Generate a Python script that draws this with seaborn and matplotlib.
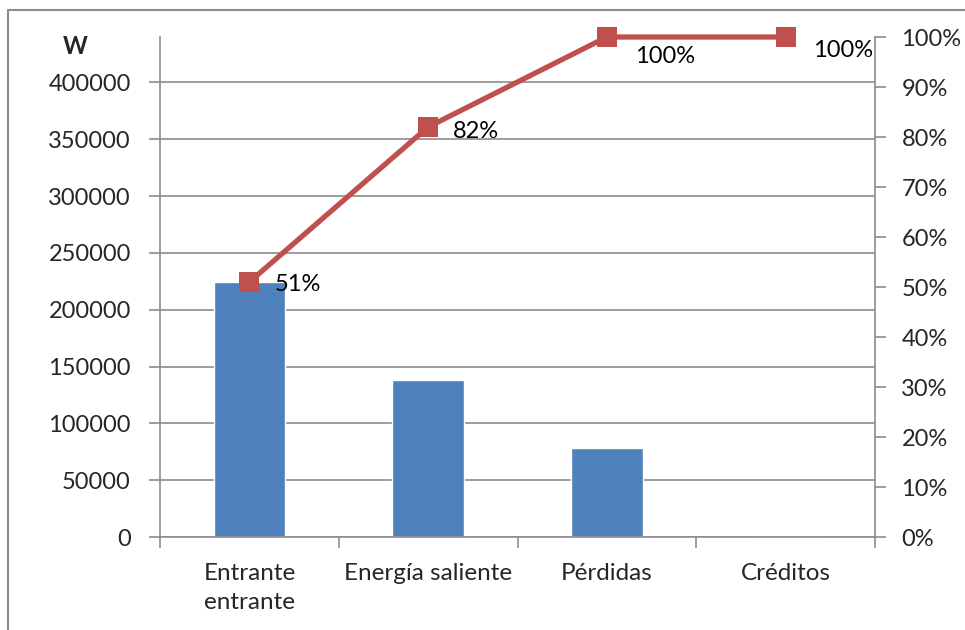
import numpy as np
import pandas as pd
import seaborn as sns
import matplotlib.pyplot as plt
from matplotlib.lines import Line2D
from matplotlib.ticker import FuncFormatter

categories = ["Entrante\nentrante", "Energía saliente", "Pérdidas", "Créditos"]
power_w = [224000, 138000, 78000, 0]
cumulative_pct = [0.51, 0.82, 1.00, 1.00]
pct_labels = ["51%", "82%", "100%", "100%"]
left_ticks = [0, 50000, 100000, 150000, 200000, 250000, 300000, 350000, 400000]
right_ticks = [0.0, 0.1, 0.2, 0.3, 0.4, 0.5, 0.6, 0.7, 0.8, 0.9, 1.0]

sns.set_theme(style="white")
plt.rcParams["font.family"] = ["Lato", "DejaVu Sans"]

BAR = "#4F81BD"
LINE = "#C0504D"
GRID = "#8C8C8C"
FS = 17
FSX = 17.5

fig = plt.figure(figsize=(9.65, 6.3), dpi=100)
ax = fig.add_axes([160 / 965, (630 - 537) / 630, (875 - 160) / 965, 500 / 630])

df = pd.DataFrame({"cat": categories, "w": power_w})
sns.barplot(data=df, x="cat", y="w", color=BAR, saturation=1, width=0.4, ax=ax)
ax.set_xlim(-0.5, len(categories) - 0.5)
ax.set_ylim(0, sum(power_w))
ax.set_yticks(left_ticks)
ax.yaxis.set_major_formatter(FuncFormatter(lambda v, p: f"{int(v)}"))
ax.grid(axis="y", color=GRID, linewidth=1.2)
ax.set_axisbelow(True)
ax.set_xlabel("")
ax.set_ylabel("")

pos = np.arange(len(categories))
ax.set_xticks(pos)
ax.set_xticklabels(categories, fontsize=FSX, linespacing=1.45)
ax.set_xticks(np.arange(len(categories) + 1) - 0.5, minor=True)
ax.tick_params(axis="x", which="major", length=0, pad=19)
ax.tick_params(axis="x", which="minor", length=8, width=1.2, color=GRID, direction="out", bottom=True)
ax.tick_params(axis="y", length=8, width=1.2, color=GRID, direction="out", left=True, pad=13, labelsize=FS)
for s in ["top", "right"]:
    ax.spines[s].set_visible(False)
for s in ["left", "bottom"]:
    ax.spines[s].set_color(GRID)
    ax.spines[s].set_linewidth(1.2)

ax2 = ax.twinx()
sns.lineplot(x=pos, y=cumulative_pct, color=LINE, linewidth=3.8, marker="s",
             markersize=15, markeredgewidth=0, ax=ax2, zorder=5)
ax2.set_ylim(0, 1)
ax2.set_yticks(right_ticks)
ax2.yaxis.set_major_formatter(FuncFormatter(lambda v, p: f"{v * 100:.0f}%"))
ax2.tick_params(axis="y", length=8, width=1.2, color=GRID, direction="out", right=True, pad=11, labelsize=FS)
for s in ["top", "left", "bottom"]:
    ax2.spines[s].set_visible(False)
ax2.spines["right"].set_color(GRID)
ax2.spines["right"].set_linewidth(1.2)
ax2.set_ylabel("")
for ln in ax2.lines:
    ln.set_clip_on(False)

offsets = [(18, -2), (18, -3), (20, -14), (20, -10)]
for x, y, lab, off in zip(pos, cumulative_pct, pct_labels, offsets):
    ax2.annotate(lab, (x, y), xytext=off, textcoords="offset points",
                 ha="left", va="center", fontsize=FS, color="black")

fig.text(63 / 965, 1 - 46 / 630, "W", fontsize=FS, fontweight="bold", va="center", ha="left")

# outer chart frame
fig.add_artist(Line2D([8 / 965, 8 / 965], [0, 1 - 10 / 630], color=GRID, linewidth=1.5))
fig.add_artist(Line2D([8 / 965, 1], [1 - 10 / 630, 1 - 10 / 630], color=GRID, linewidth=1.5))

fig.savefig("out.png", dpi=100)
